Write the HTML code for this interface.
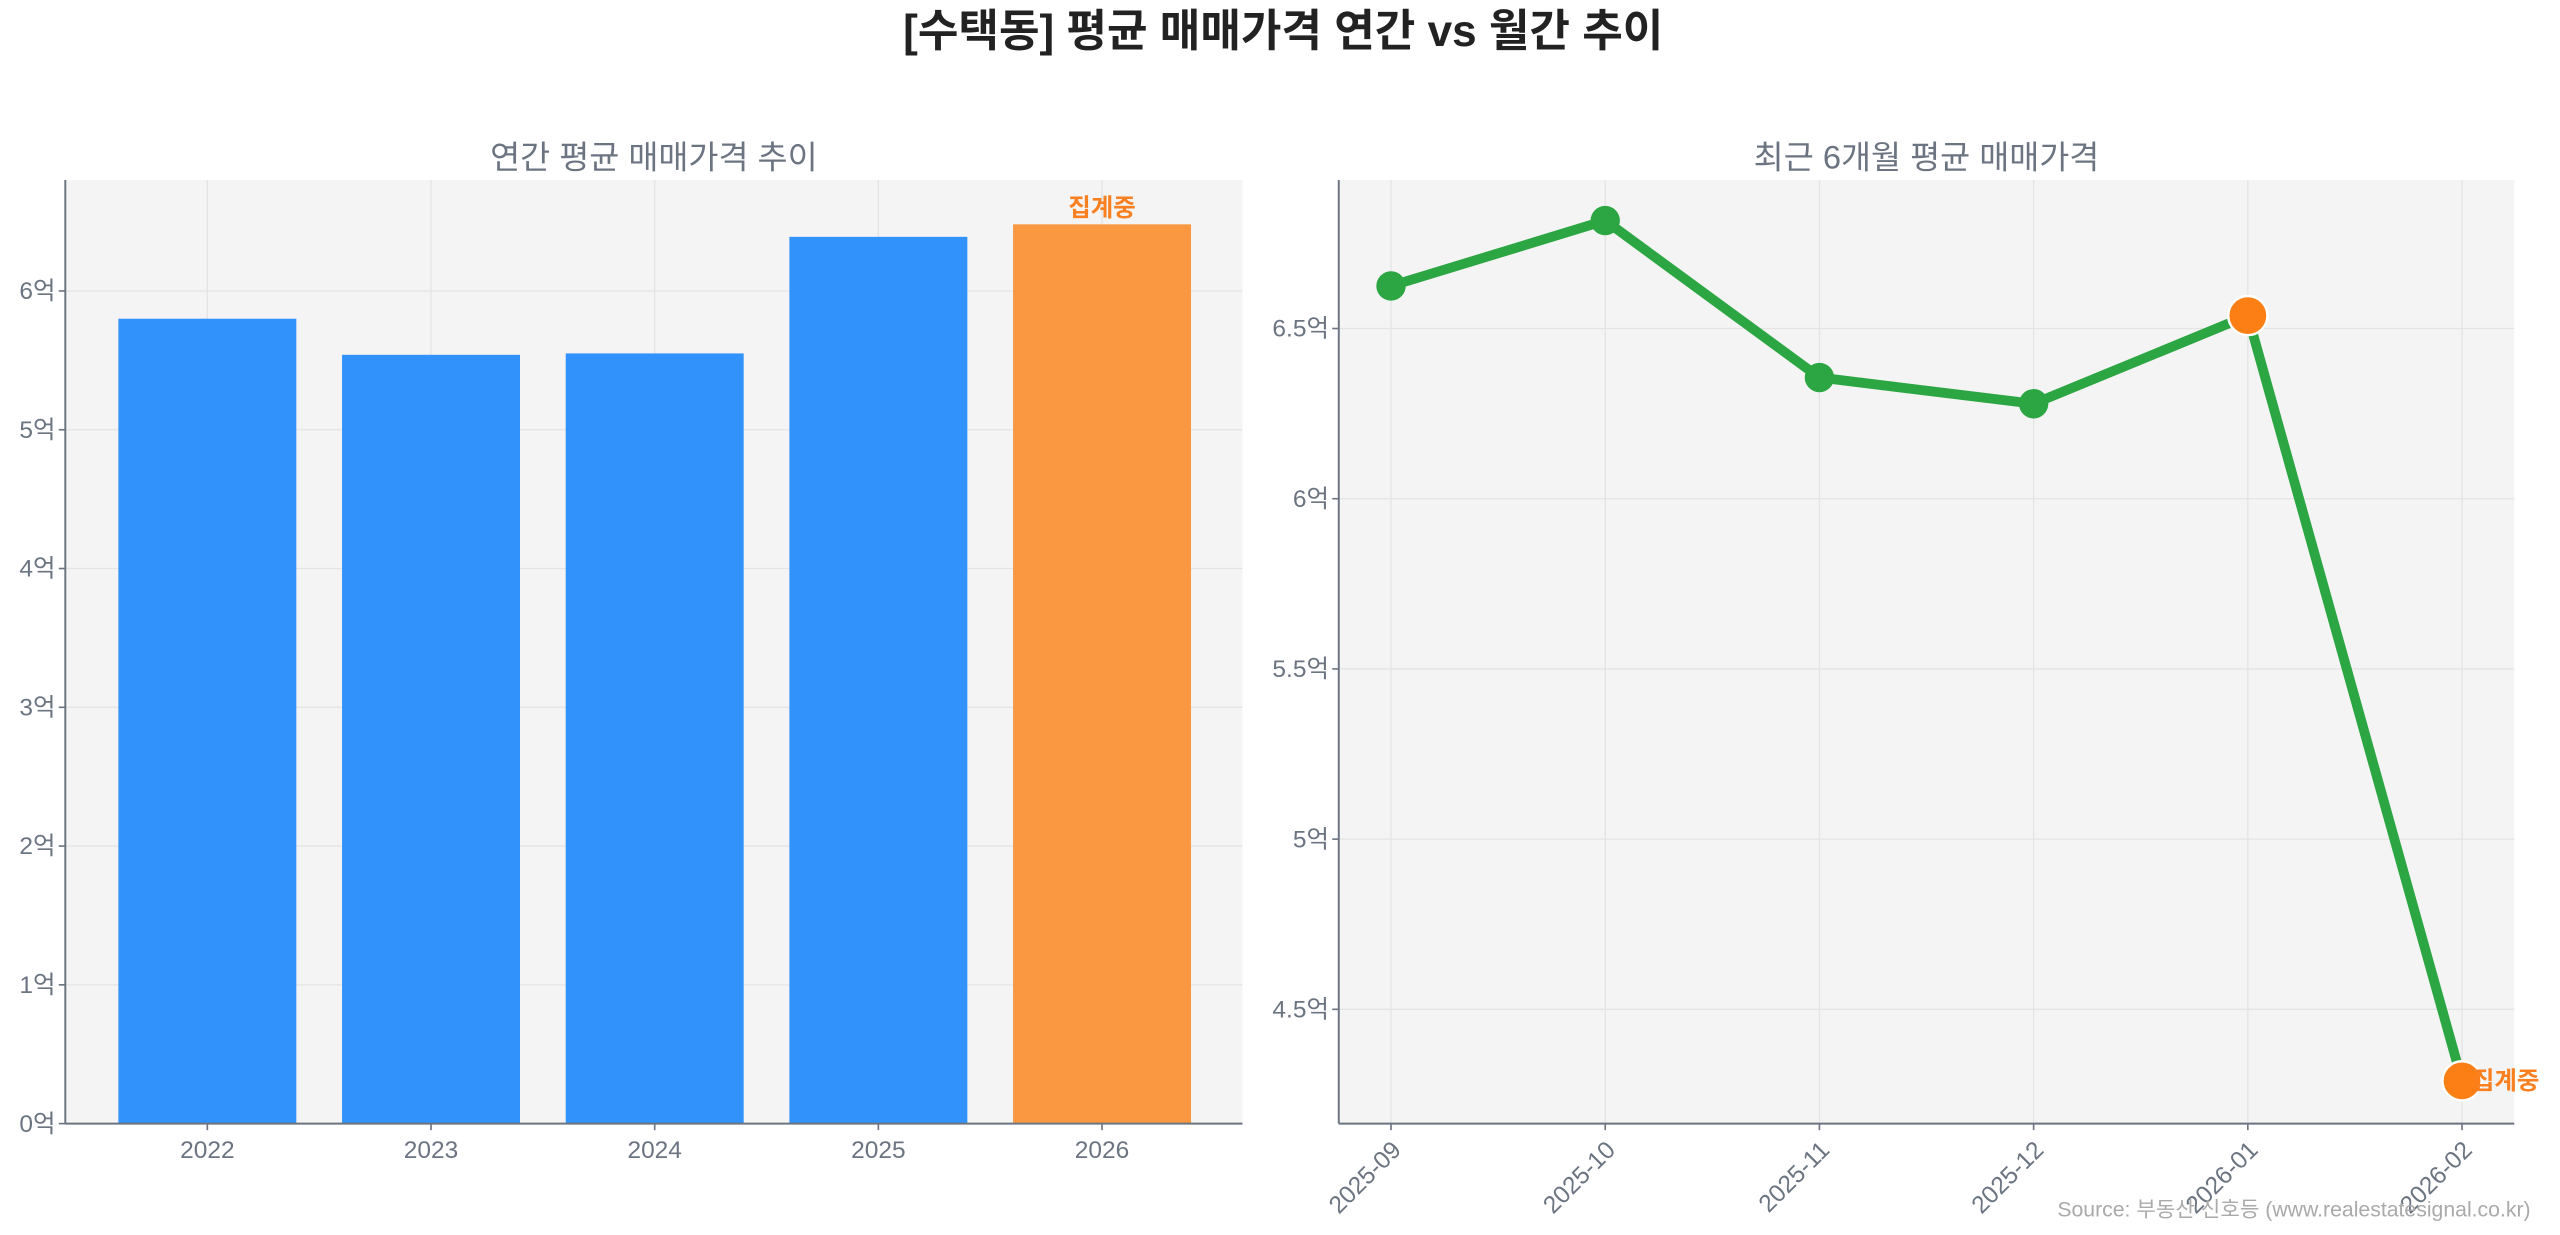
<!DOCTYPE html>
<html><head><meta charset="utf-8"><style>
html,body{margin:0;padding:0;background:#fff;}
svg{display:block;font-family:"Liberation Sans","Noto Sans CJK KR",sans-serif;}
</style></head><body>
<svg id="chart" width="2560" height="1235" viewBox="0 0 1568 756" xmlns="http://www.w3.org/2000/svg">
<text x="786" y="28" text-anchor="middle" font-size="27" font-weight="bold" fill="#222">[수택동] 평균 매매가격 연간 vs 월간 추이</text>
<g id="left"></g>
<g id="right"></g>
<text x="1550" y="745" text-anchor="end" font-size="13" fill="#aaa">Source: 부동산 신호등 (www.realestatesignal.co.kr)</text>
</svg>
<script>
const yearCats = ['2022','2023','2024','2025','2026'];
const yearVals = [5.80, 5.54, 5.55, 6.39, 6.48];
const yearTicks = [0,1,2,3,4,5,6];
const monthCats = ['2025-09','2025-10','2025-11','2025-12','2026-01','2026-02'];
const monthVals = [6.625, 6.817, 6.356, 6.279, 6.538, 4.29];
const monthTicks = [4.5,5,5.5,6,6.5];
const NS='http://www.w3.org/2000/svg';
function mk(parent,tag,attrs,text){const e=document.createElementNS(NS,tag);for(const k in attrs)e.setAttribute(k,attrs[k]);if(text!==undefined)e.textContent=text;parent.appendChild(e);return e;}
const gray='#6b7480';
// LEFT
(function(){
const g=document.getElementById('left');
const L=40,R=761,T=110,B=688,yMax=(B-T)/85;
const y=v=>B-(v/yMax)*(B-T);
const step=137, x0=127, bw=109;
const x=i=>x0+i*step;
let bg=mk(g,'rect',{x:L,y:T,width:R-L,height:B-T,fill:'#f4f4f4'});

mk(g,'text',{x:(L+R)/2,y:103,'text-anchor':'middle','font-size':20,fill:gray},'연간 평균 매매가격 추이');
yearTicks.forEach(t=>{const ln=mk(g,'line',{x1:L,x2:R,y1:y(t),y2:y(t),stroke:'#e4e4e4','stroke-width':0.8});
 mk(g,'line',{x1:L-4,x2:L,y1:y(t),y2:y(t),stroke:gray});
 const lb=mk(g,'text',{x:L-6,y:y(t)+5,'text-anchor':'end','font-size':15,fill:gray},t+'억');});
yearCats.forEach((c,i)=>{mk(g,'line',{x1:x(i),x2:x(i),y1:T,y2:B,stroke:'#e4e4e4','stroke-width':0.8});});
yearCats.forEach((c,i)=>{const last=i===yearCats.length-1;
 const r=mk(g,'rect',{x:x(i)-bw/2,y:y(yearVals[i]),width:bw,height:B-y(yearVals[i]),fill:last?'#f99840':'#3192fc'});
 
 mk(g,'line',{x1:x(i),x2:x(i),y1:B,y2:B+4,stroke:gray});
 const lb=mk(g,'text',{x:x(i),y:B+21,'text-anchor':'middle','font-size':15,fill:gray},c);
 if(last){const a=mk(g,'text',{x:x(i),y:y(yearVals[i])-5,'text-anchor':'middle','font-size':15,'font-weight':'bold',fill:'#f98020'},'집계중');}
});
mk(g,'line',{x1:L,x2:L,y1:T,y2:B,stroke:gray,'stroke-width':1.2});
mk(g,'line',{x1:L,x2:R,y1:B,y2:B,stroke:gray,'stroke-width':1.2});
})();
// RIGHT
(function(){
const g=document.getElementById('right');
const L=820,R=1540,T=110,B=688;
const v0=4.5,p0=618,ppu=208.5;
const y=v=>p0-(v-v0)*ppu;
const x=i=>852+i*131.2;
mk(g,'rect',{x:L,y:T,width:R-L,height:B-T,fill:'#f4f4f4'});
mk(g,'text',{x:(L+R)/2,y:103,'text-anchor':'middle','font-size':20,fill:gray},'최근 6개월 평균 매매가격');
monthTicks.forEach(t=>{mk(g,'line',{x1:L,x2:R,y1:y(t),y2:y(t),stroke:'#e4e4e4','stroke-width':0.8});
 mk(g,'line',{x1:L-4,x2:L,y1:y(t),y2:y(t),stroke:gray});
 const lb=mk(g,'text',{x:L-6,y:y(t)+5,'text-anchor':'end','font-size':15,fill:gray},t+'억');});
monthCats.forEach((c,i)=>{mk(g,'line',{x1:x(i),x2:x(i),y1:T,y2:B,stroke:'#e4e4e4','stroke-width':0.8});
 mk(g,'line',{x1:x(i),x2:x(i),y1:B,y2:B+4,stroke:gray});
 const ax=x(i)+7, ay=B+17;
 const lb=mk(g,'text',{x:ax,y:ay,'text-anchor':'end','font-size':15,fill:gray,transform:`rotate(-45 ${ax} ${ay})`},c);});
mk(g,'line',{x1:L,x2:L,y1:T,y2:B,stroke:gray,'stroke-width':1.2});
mk(g,'line',{x1:L,x2:R,y1:B,y2:B,stroke:gray,'stroke-width':1.2});
const pts=monthVals.map((v,i)=>x(i)+','+y(v)).join(' ');
const pl=mk(g,'polyline',{points:pts,fill:'none',stroke:'#2ca643','stroke-width':6,'stroke-linejoin':'round'});

monthVals.forEach((v,i)=>{const big=i>=monthVals.length-2;
 const c=mk(g,'circle',{cx:x(i),cy:y(v),r:big?12:9,fill:big?'#fb7f14':'#2ca643',stroke:big?'#fff':'none','stroke-width':1.5});
 });
const li=monthVals.length-1;
const a=mk(g,'text',{x:x(li)+6,y:y(monthVals[li])+5,'font-size':15,'font-weight':'bold',fill:'#f98020'},'집계중');

})();
</script>
</body></html>
